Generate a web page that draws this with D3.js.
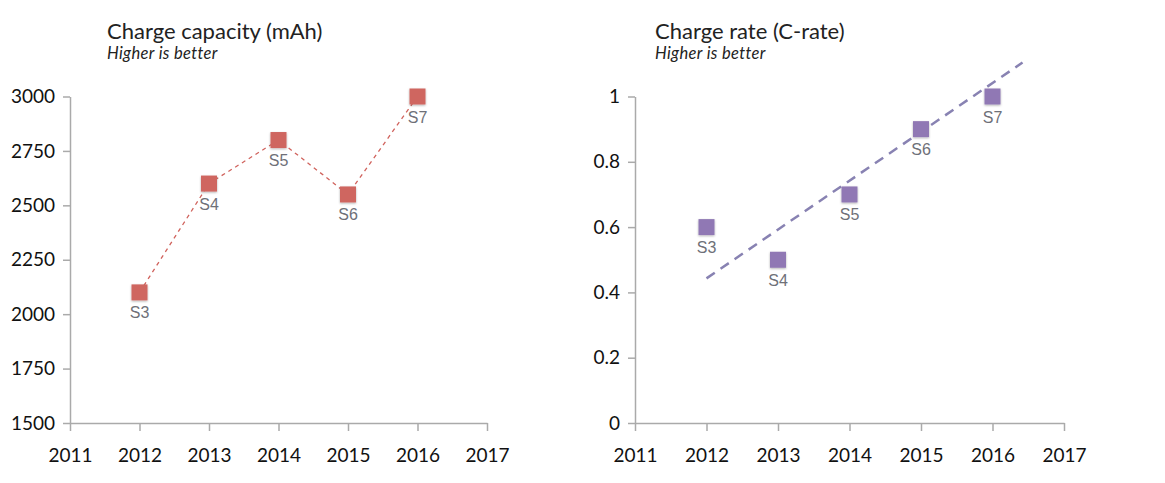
<!DOCTYPE html>
<html>
<head>
<meta charset="utf-8">
<script src="https://cdn.jsdelivr.net/npm/d3@7"></script>
<style>
  body { margin: 0; background: #fff; }
</style>
</head>
<body>
<div class="container"></div>
<script>
const years = [2012, 2013, 2014, 2015, 2016];
const models = ["S3", "S4", "S5", "S6", "S7"];
const capacity = [2100, 2600, 2800, 2550, 3000];
const rate = [0.6, 0.5, 0.7, 0.9, 1.0];
const capTicks = [1500, 1750, 2000, 2250, 2500, 2750, 3000];
const rateTicks = [0, 0.2, 0.4, 0.6, 0.8, 1];
const yearTicks = [2011, 2012, 2013, 2014, 2015, 2016, 2017];
// trend line ends
const trendYears = [2012, 2016.42];
const trendRate = [0.443, 1.104];

const width = 1165, height = 483;
const font = "Lato, 'Open Sans', sans-serif";
const svg = d3.select(".container")
              .append("svg")
              .attr("width", width)
              .attr("height", height);

const defs = svg.append("defs");
const shadow = defs.append("filter").attr("id", "shadow")
                   .attr("x", "-50%").attr("y", "-50%")
                   .attr("width", "200%").attr("height", "200%");
shadow.append("feDropShadow")
      .attr("dx", 0).attr("dy", 1)
      .attr("stdDeviation", 1.2)
      .attr("flood-color", "#000")
      .attr("flood-opacity", 0.3);

function panel(opt) {
    const g = svg.append("g");
    const x = d3.scaleLinear().domain([2011, 2017]).range([opt.x0, opt.x1]);
    const y = d3.scaleLinear().domain(opt.domain).range([423, 96.5]);

    g.append("text")
     .attr("x", opt.titleX).attr("y", 39)
     .attr("font-family", font)
     .attr("font-size", 22).attr("fill", "#222")
     .text(opt.title);
    g.append("text")
     .attr("x", opt.titleX).attr("y", 59)
     .attr("font-family", font)
     .attr("font-size", 16.5).attr("letter-spacing", 0.35)
     .attr("font-style", "italic").attr("fill", "#222")
     .text("Higher is better");

    const xAxis = g.append("g")
                   .attr("transform", `translate(0,423)`)
                   .call(d3.axisBottom(x).tickValues(yearTicks).tickFormat(d3.format("d"))
                           .tickSize(8).tickSizeOuter(0));
    const yAxis = g.append("g")
                   .attr("transform", `translate(${opt.x0},0)`)
                   .call(d3.axisLeft(y).tickValues(opt.ticks).tickFormat(opt.fmt)
                           .tickSize(7).tickSizeOuter(0));
    [xAxis, yAxis].forEach(a => {
        a.select(".domain").attr("stroke", "#aaa").attr("stroke-width", 1.5);
        a.selectAll(".tick line").attr("stroke", "#aaa").attr("stroke-width", 1.5);
        a.selectAll(".tick text").attr("font-size", 19).attr("fill", "#111")
         .attr("font-family", font);
    });
    xAxis.selectAll(".tick text").attr("y", 18).attr("dy", "1.1em");
    yAxis.selectAll(".tick text").attr("x", -15);

    return {g, x, y};
}

// left panel
const left = panel({x0: 70, x1: 487, domain: [1500, 3000], ticks: capTicks,
                    fmt: d3.format("d"), title: "Charge capacity (mAh)", titleX: 107});
const capData = years.map((d, i) => ({year: d, v: capacity[i], name: models[i]}));
left.g.append("path")
      .datum(capData)
      .attr("d", d3.line().x(d => left.x(d.year)).y(d => left.y(d.v)))
      .attr("fill", "none")
      .attr("stroke", "#d0625c")
      .attr("stroke-width", 1.3)
      .attr("stroke-dasharray", "4,4");

// right panel
const right = panel({x0: 635, x1: 1064, domain: [0, 1], ticks: rateTicks,
                     fmt: d => d === 0 || d === 1 ? d3.format("d")(d) : d3.format(".1f")(d),
                     title: "Charge rate (C-rate)", titleX: 655});
const rateData = years.map((d, i) => ({year: d, v: rate[i], name: models[i]}));
right.g.append("line")
       .attr("x1", right.x(trendYears[0])).attr("y1", right.y(trendRate[0]))
       .attr("x2", right.x(trendYears[1])).attr("y2", right.y(trendRate[1]))
       .attr("stroke", "#8882b2")
       .attr("stroke-width", 2.5)
       .attr("stroke-dasharray", "10,7");

function markers(p, data, color) {
    p.g.selectAll("rect.m")
       .data(data)
       .join("rect")
       .attr("class", "m")
       .attr("x", d => p.x(d.year) - 8)
       .attr("y", d => p.y(d.v) - 8)
       .attr("width", 16).attr("height", 16)
       .attr("fill", color)
       .attr("filter", "url(#shadow)");
    p.g.selectAll("text.lbl")
       .data(data)
       .join("text")
       .attr("class", "lbl")
       .attr("x", d => p.x(d.year))
       .attr("y", d => p.y(d.v) + 26)
       .attr("text-anchor", "middle")
       .attr("font-size", 16)
       .attr("font-family", "'Liberation Sans', Arial, sans-serif")
       .attr("fill", "#6e7078")
       .text(d => d.name);
}
markers(left, capData, "#cf6660");
markers(right, rateData, "#9078b4");
</script>
</body>
</html>
